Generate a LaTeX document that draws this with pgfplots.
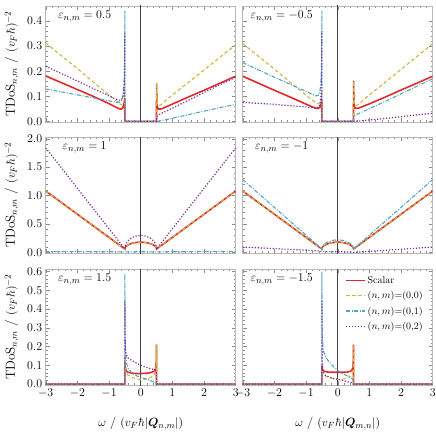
\documentclass[border=0pt]{standalone}
\usepackage{pgfplots}
\pgfplotsset{compat=1.18}
\usepackage{bm}
\definecolor{cred}{HTML}{E3282B}
\definecolor{cyel}{HTML}{C8B63E}
\definecolor{cblu}{HTML}{53A2C6}
\definecolor{cpur}{HTML}{7A2D9C}
\definecolor{cframe}{HTML}{B8B8B8}
\pgfplotsset{
  panel/.style={scale only axis, width=190bp, height=116bp, anchor=north west,
    xmin=-3, xmax=3, xtick={-3,-2,-1,0,1,2,3}, minor x tick num=4,
    axis line style={cframe, line width=0.6pt}, tick style={black!45, line width=0.4pt},
    major tick length=4bp, minor tick length=2bp, tick align=inside,
    ticklabel style={font=\fontsize{11.5}{13}\selectfont},
    yticklabel style={/pgf/number format/.cd, fixed, fixed zerofill, precision=1},
    every axis y label/.style={at={(axis description cs:0,0.5)}, xshift=-34bp, rotate=90, anchor=center, font=\fontsize{13.2}{16}\selectfont},
    every axis x label/.style={at={(axis description cs:0.5,0)}, yshift=-39bp, anchor=center, font=\fontsize{12.5}{15}\selectfont},
  },
  sred/.style={cred, line width=1.6pt},
  syel/.style={cyel, line width=1.1pt, dash pattern=on 3.5pt off 2.5pt},
  sblu/.style={cblu, line width=1.1pt, dash pattern=on 4pt off 1.5pt on 1pt off 1.5pt},
  spur/.style={cpur, line width=1.2pt, dash pattern=on 1.2pt off 1.8pt},
  zline/.style={black!75, line width=0.5pt, forget plot},
}
\newcommand{\plab}[1]{\node[font=\fontsize{12.8}{15}\selectfont] at (axis description cs:0.205,0.91) {$\varepsilon_{n,m}=#1$};}
\newcommand{\tdos}{TDoS$_{n,m}$ / $(v_F\hbar)^{-2}$}
\begin{document}
\begin{tikzpicture}
\useasboundingbox (0,0) rectangle (436bp,-434bp);
% ---------- top left
\begin{axis}[panel, at={(45.7bp,-6bp)}, ymin=-0.002, ymax=0.459, ytick={0,0.1,0.2,0.3,0.4}, minor y tick num=4, xticklabels={}, ylabel={\tdos}]
\addplot[zline] coordinates {(0,-1) (0,3)};
\addplot[sred] coordinates {(-3,0.181) (-2.5,0.154) (-2,0.127) (-1.5,0.100) (-1,0.071) (-0.8,0.058) (-0.7,0.052) (-0.64,0.049) (-0.6,0.05) (-0.57,0.055) (-0.54,0.064) (-0.52,0.075) (-0.505,0.09) (-0.5,0) (0.5,0) (0.501,0.15) (0.51,0.07) (0.53,0.055) (0.57,0.049) (0.65,0.05) (0.8,0.058) (1,0.069) (1.5,0.097) (2,0.124) (2.5,0.152) (3,0.18)};
\addplot[syel] coordinates {(-3,0.312) (-2.5,0.261) (-2,0.21) (-1.5,0.157) (-1,0.105) (-0.8,0.085) (-0.7,0.074) (-0.62,0.066) (-0.57,0.066) (-0.54,0.072) (-0.52,0.085) (-0.505,0.11) (-0.5,0) (0.5,0) (0.501,0.155) (0.51,0.085) (0.53,0.068) (0.57,0.063) (0.65,0.067) (0.8,0.085) (1,0.105) (1.5,0.155) (2,0.205) (2.5,0.255) (3,0.305)};
\addplot[sblu] coordinates {(-3,0.129) (-2,0.106) (-1.5,0.094) (-1,0.082) (-0.8,0.077) (-0.7,0.076) (-0.62,0.08) (-0.57,0.095) (-0.54,0.12) (-0.52,0.16) (-0.51,0.22) (-0.503,0.33) (-0.5,0.44) (-0.499,0) (0.55,0) (0.6,0.002) (1,0.013) (1.5,0.027) (2,0.041) (2.5,0.055) (3,0.068)};
\addplot[spur] coordinates {(-3,0.22) (-2.5,0.19) (-2,0.161) (-1.5,0.131) (-1,0.102) (-0.8,0.09) (-0.7,0.085) (-0.62,0.085) (-0.57,0.095) (-0.54,0.115) (-0.52,0.15) (-0.51,0.2) (-0.503,0.28) (-0.5,0.35) (-0.499,0) (0.5,0) (0.501,0.02) (0.55,0.025) (0.62,0.03) (1,0.053) (1.5,0.084) (2,0.115) (2.5,0.146) (3,0.176)};
\plab{0.5}
\end{axis}
% ---------- top right
\begin{axis}[panel, at={(242.7bp,-6bp)}, ymin=-0.002, ymax=0.459, ytick={0,0.1,0.2,0.3,0.4}, minor y tick num=4, xticklabels={}, yticklabels={}]
\addplot[zline] coordinates {(0,-1) (0,3)};
\addplot[sred] coordinates {(-3,0.18) (-2.5,0.152) (-2,0.124) (-1.5,0.097) (-1,0.069) (-0.8,0.058) (-0.69,0.053) (-0.62,0.052) (-0.57,0.056) (-0.54,0.062) (-0.52,0.072) (-0.505,0.085) (-0.5,0) (0.5,0) (0.501,0.16) (0.51,0.075) (0.53,0.058) (0.57,0.052) (0.65,0.053) (0.8,0.06) (1,0.07) (1.5,0.097) (2,0.125) (2.5,0.152) (3,0.18)};
\addplot[syel] coordinates {(-3,0.31) (-2.5,0.259) (-2,0.208) (-1.5,0.156) (-1,0.105) (-0.8,0.085) (-0.7,0.075) (-0.62,0.07) (-0.57,0.07) (-0.54,0.076) (-0.52,0.088) (-0.505,0.11) (-0.5,0) (0.5,0) (0.501,0.16) (0.51,0.085) (0.53,0.068) (0.57,0.063) (0.65,0.067) (0.8,0.085) (1,0.105) (1.5,0.156) (2,0.207) (2.5,0.258) (3,0.31)};
\addplot[sblu] coordinates {(-3,0.234) (-2.5,0.205) (-2,0.176) (-1.5,0.148) (-1,0.12) (-0.8,0.108) (-0.7,0.102) (-0.62,0.103) (-0.57,0.115) (-0.54,0.14) (-0.52,0.18) (-0.51,0.24) (-0.503,0.33) (-0.5,0.44) (-0.499,0) (0.5,0) (0.501,0.02) (0.55,0.025) (0.6,0.028) (1,0.051) (1.5,0.08) (2,0.11) (2.5,0.14) (3,0.17)};
\addplot[spur] coordinates {(-3,0.076) (-2,0.068) (-1,0.058) (-0.7,0.053) (-0.62,0.055) (-0.57,0.065) (-0.54,0.085) (-0.52,0.12) (-0.51,0.17) (-0.503,0.25) (-0.5,0.36) (-0.499,0) (0.55,0) (0.6,0.001) (1,0.006) (1.5,0.012) (2,0.019) (2.5,0.026) (3,0.033)};
\plab{-0.5}
\end{axis}
% ---------- middle left
\begin{axis}[panel, at={(45.7bp,-137bp)}, ymin=-0.01, ymax=2.03, ytick={0,0.5,1,1.5,2}, minor y tick num=4, xticklabels={}, ylabel={\tdos}]
\addplot[zline] coordinates {(0,-1) (0,3)};
\addplot[sred] coordinates {(-3,1.08) (-2.5,0.876) (-2,0.672) (-1.5,0.468) (-1,0.264) (-0.75,0.162) (-0.5,0.06) (-0.495,0.077) (-0.49,0.084) (-0.48,0.094) (-0.45,0.112) (-0.4,0.132) (-0.3,0.156) (-0.2,0.17) (-0.1,0.178) (0,0.18) (0.1,0.178) (0.2,0.17) (0.3,0.156) (0.4,0.132) (0.45,0.112) (0.48,0.094) (0.49,0.084) (0.495,0.077) (0.5,0.06) (0.75,0.162) (1,0.264) (1.5,0.468) (2,0.672) (2.5,0.876) (3,1.08)};
\addplot[syel] coordinates {(-3,1.08) (-2.5,0.876) (-2,0.672) (-1.5,0.468) (-1,0.264) (-0.75,0.162) (-0.5,0.06) (-0.495,0.077) (-0.49,0.084) (-0.48,0.094) (-0.45,0.112) (-0.4,0.132) (-0.3,0.156) (-0.2,0.17) (-0.1,0.178) (0,0.18) (0.1,0.178) (0.2,0.17) (0.3,0.156) (0.4,0.132) (0.45,0.112) (0.48,0.094) (0.49,0.084) (0.495,0.077) (0.5,0.06) (0.75,0.162) (1,0.264) (1.5,0.468) (2,0.672) (2.5,0.876) (3,1.08)};
\addplot[sblu] coordinates {(-3,0.015) (-2,0.014) (-1,0.012) (-0.5,0.01) (0,0.012) (0.5,0.01) (1,0.012) (2,0.014) (3,0.015)};
\addplot[spur] coordinates {(-3,1.84) (-2.5,1.484) (-2,1.128) (-1.5,0.772) (-1,0.416) (-0.75,0.238) (-0.5,0.06) (-0.495,0.094) (-0.49,0.108) (-0.48,0.127) (-0.45,0.165) (-0.4,0.204) (-0.3,0.252) (-0.2,0.28) (-0.1,0.295) (0,0.3) (0.1,0.295) (0.2,0.28) (0.3,0.252) (0.4,0.204) (0.45,0.165) (0.48,0.127) (0.49,0.108) (0.495,0.094) (0.5,0.06) (0.75,0.238) (1,0.416) (1.5,0.772) (2,1.128) (2.5,1.484) (3,1.84)};
\plab{1}
\end{axis}
% ---------- middle right
\begin{axis}[panel, at={(242.7bp,-137bp)}, ymin=-0.01, ymax=2.03, ytick={0,0.5,1,1.5,2}, minor y tick num=4, xticklabels={}, yticklabels={}]
\addplot[zline] coordinates {(0,-1) (0,3)};
\addplot[sred] coordinates {(-3,1.08) (-2.5,0.876) (-2,0.672) (-1.5,0.468) (-1,0.264) (-0.75,0.162) (-0.5,0.06) (-0.495,0.077) (-0.49,0.084) (-0.48,0.094) (-0.45,0.112) (-0.4,0.132) (-0.3,0.156) (-0.2,0.17) (-0.1,0.178) (0,0.18) (0.1,0.178) (0.2,0.17) (0.3,0.156) (0.4,0.132) (0.45,0.112) (0.48,0.094) (0.49,0.084) (0.495,0.077) (0.5,0.06) (0.75,0.162) (1,0.264) (1.5,0.468) (2,0.672) (2.5,0.876) (3,1.08)};
\addplot[syel] coordinates {(-3,1.08) (-2.5,0.876) (-2,0.672) (-1.5,0.468) (-1,0.264) (-0.75,0.162) (-0.5,0.06) (-0.495,0.077) (-0.49,0.084) (-0.48,0.094) (-0.45,0.112) (-0.4,0.132) (-0.3,0.156) (-0.2,0.17) (-0.1,0.178) (0,0.18) (0.1,0.178) (0.2,0.17) (0.3,0.156) (0.4,0.132) (0.45,0.112) (0.48,0.094) (0.49,0.084) (0.495,0.077) (0.5,0.06) (0.75,0.162) (1,0.264) (1.5,0.468) (2,0.672) (2.5,0.876) (3,1.08)};
\addplot[sblu] coordinates {(-3,1.28) (-2.5,1.036) (-2,0.792) (-1.5,0.548) (-1,0.304) (-0.75,0.182) (-0.5,0.06) (-0.495,0.083) (-0.49,0.092) (-0.48,0.105) (-0.45,0.13) (-0.4,0.156) (-0.3,0.188) (-0.2,0.207) (-0.1,0.217) (0,0.22) (0.1,0.217) (0.2,0.207) (0.3,0.188) (0.4,0.156) (0.45,0.13) (0.48,0.105) (0.49,0.092) (0.495,0.083) (0.5,0.06) (0.75,0.182) (1,0.304) (1.5,0.548) (2,0.792) (2.5,1.036) (3,1.28)};
\addplot[spur] coordinates {(-3,0.094) (-2,0.068) (-1,0.04) (-0.5,0.02) (-0.3,0.015) (0,0.012) (0.3,0.008) (0.5,0) (1,0.02) (2,0.056) (3,0.094)};
\plab{-1}
\end{axis}
% ---------- bottom left
\begin{axis}[panel, at={(45.7bp,-269bp)}, ymin=-0.005, ymax=0.614, ytick={0,0.1,0.2,0.3,0.4,0.5,0.6}, minor y tick num=4, ylabel={\tdos}, xlabel={$\omega$ / $(v_F\hbar|\bm{Q}_{n,m}|)$}]
\addplot[zline] coordinates {(0,-1) (0,3)};
\addplot[sred] coordinates {(-3,0) (-0.5,0) (-0.499,0.12) (-0.49,0.09) (-0.47,0.075) (-0.44,0.067) (-0.4,0.063) (-0.3,0.059) (-0.2,0.057) (-0.1,0.056) (0,0.056) (0.1,0.057) (0.2,0.058) (0.3,0.061) (0.38,0.065) (0.43,0.071) (0.46,0.08) (0.48,0.095) (0.495,0.12) (0.499,0.21) (0.5,0) (3,0)};
\addplot[syel] coordinates {(-3,0) (-0.5,0) (-0.499,0.15) (-0.49,0.085) (-0.47,0.065) (-0.44,0.055) (-0.4,0.048) (-0.3,0.038) (-0.2,0.031) (-0.1,0.027) (0,0.025) (0.1,0.025) (0.2,0.028) (0.3,0.034) (0.38,0.042) (0.43,0.052) (0.46,0.065) (0.48,0.085) (0.49,0.11) (0.495,0.14) (0.499,0.21) (0.5,0) (3,0)};
\addplot[sblu] coordinates {(-3,0) (-0.5,0) (-0.4995,0.59) (-0.495,0.35) (-0.49,0.25) (-0.48,0.18) (-0.46,0.13) (-0.43,0.1) (-0.4,0.085) (-0.3,0.063) (-0.2,0.05) (-0.1,0.042) (0,0.036) (0.1,0.031) (0.2,0.026) (0.3,0.02) (0.4,0.012) (0.45,0.007) (0.5,0) (3,0)};
\addplot[spur] coordinates {(-3,0) (-0.5,0) (-0.4995,0.44) (-0.495,0.3) (-0.49,0.23) (-0.48,0.18) (-0.46,0.16) (-0.43,0.148) (-0.4,0.14) (-0.3,0.128) (-0.2,0.118) (-0.1,0.109) (0,0.1) (0.1,0.094) (0.2,0.088) (0.3,0.083) (0.4,0.078) (0.45,0.075) (0.49,0.072) (0.5,0) (3,0)};
\plab{1.5}
\end{axis}
% ---------- bottom right
\begin{axis}[panel, at={(242.7bp,-269bp)}, ymin=-0.005, ymax=0.614, ytick={0,0.1,0.2,0.3,0.4,0.5,0.6}, minor y tick num=4, yticklabels={}, xlabel={$\omega$ / $(v_F\hbar|\bm{Q}_{m,n}|)$},
  legend style={draw=none, fill=none, at={(axis description cs:0.975,0.975)}, anchor=north east, font=\fontsize{10}{12}\selectfont, row sep=2.5bp, cells={anchor=west}},
  legend image code/.code={\draw[#1] plot coordinates {(0cm,0cm) (0.66cm,0cm)};}]
\addplot[zline] coordinates {(0,-1) (0,3)};
\addplot[sred] coordinates {(-3,0) (-0.5,0) (-0.499,0.1) (-0.49,0.085) (-0.47,0.075) (-0.44,0.07) (-0.4,0.067) (-0.3,0.064) (-0.2,0.063) (-0.1,0.063) (0,0.063) (0.1,0.063) (0.2,0.063) (0.3,0.064) (0.4,0.068) (0.45,0.075) (0.48,0.09) (0.495,0.13) (0.499,0.21) (0.5,0) (3,0)};
\addlegendentry{Scalar}
\addplot[syel] coordinates {(-3,0) (-0.5,0) (-0.499,0.08) (-0.49,0.065) (-0.47,0.058) (-0.44,0.05) (-0.4,0.045) (-0.3,0.036) (-0.2,0.03) (-0.1,0.026) (0,0.024) (0.1,0.024) (0.2,0.027) (0.3,0.032) (0.38,0.04) (0.43,0.05) (0.46,0.062) (0.48,0.08) (0.49,0.1) (0.495,0.14) (0.499,0.21) (0.5,0) (3,0)};
\addlegendentry{$(n,m)$=(0,0)}
\addplot[sblu] coordinates {(-3,0) (-0.5,0) (-0.4995,0.6) (-0.495,0.4) (-0.49,0.3) (-0.48,0.23) (-0.46,0.19) (-0.43,0.165) (-0.4,0.155) (-0.37,0.142) (-0.3,0.125) (-0.2,0.105) (-0.1,0.088) (0,0.073) (0.1,0.062) (0.2,0.052) (0.3,0.044) (0.37,0.038) (0.45,0.03) (0.49,0.02) (0.5,0) (3,0)};
\addlegendentry{$(n,m)$=(0,1)}
\addplot[spur] coordinates {(-3,0) (-0.5,0) (-0.4995,0.45) (-0.495,0.25) (-0.49,0.16) (-0.48,0.1) (-0.46,0.07) (-0.43,0.055) (-0.4,0.048) (-0.3,0.04) (-0.2,0.034) (-0.1,0.029) (0,0.025) (0.1,0.021) (0.2,0.017) (0.3,0.013) (0.4,0.009) (0.45,0.007) (0.5,0) (3,0)};
\addlegendentry{$(n,m)$=(0,2)}
\plab{-1.5}
\end{axis}
\end{tikzpicture}
\end{document}
